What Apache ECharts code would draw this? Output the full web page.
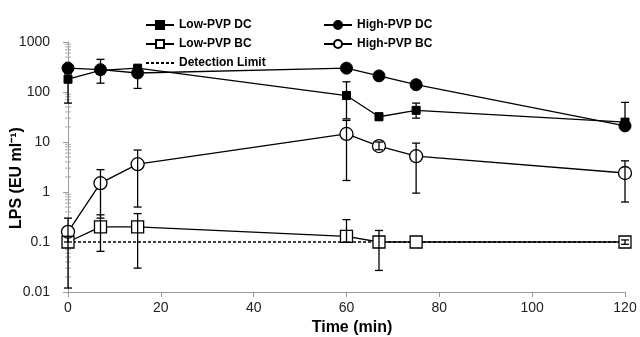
<!DOCTYPE html>
<html>
<head>
<meta charset="utf-8">
<script src="https://cdn.jsdelivr.net/npm/echarts@6/dist/echarts.min.js"></script>
<style>
  html, body { margin: 0; padding: 0; background: #fff; }
  #chart { width: 640px; height: 337px; }
</style>
</head>
<body>
<div id="chart"></div>
<script>
// Sampling times (min)
const times = [0, 7, 15, 60, 67, 75, 120];

// LPS concentrations (EU ml^-1) and error bar bounds (null = no bar)
const lowDc   = [180, 270, 300, 85, 32, 43, 25];
const lowDcLo = [60, null, 250, 29, 27, 30, 21];
const lowDcHi = [230, null, 340, 160, 38, 60, 62];

const highDc   = [300, 280, 240, 300, 210, 140, 21];
const highDcLo = [null, 150, 118, null, null, null, null];
const highDcHi = [null, 450, 300, null, null, null, null];

const lowBc   = [0.1, 0.2, 0.2, 0.13, 0.1, 0.1, 0.1];
const lowBcLo = [0.012, 0.065, 0.03, 0.1, 0.027, null, 0.09];
const lowBcHi = [0.13, 0.35, 0.37, 0.28, 0.17, null, 0.11];

const highBc   = [0.16, 1.5, 3.6, 14.5, 8.3, 5.2, 2.4];
const highBcLo = [0.1, 0.3, 0.5, 1.7, 7, 0.95, 0.63];
const highBcHi = [0.3, 2.8, 6.9, 27, 10, 9.5, 4.2];

const detectionLimit = 0.1;

// Axis settings
const xTicks = [0, 20, 40, 60, 80, 100, 120];
const yDecades = [0.01, 0.1, 1, 10, 100, 1000];

const FONT = 'Liberation Sans, Arial, sans-serif';

function pairs(vals) {
  return times.map((t, i) => [t, vals[i]]);
}
function bars(lo, hi) {
  const out = [];
  times.forEach((t, i) => {
    if (lo[i] != null && hi[i] != null) out.push([t, lo[i], hi[i]]);
  });
  return out;
}

// Logarithmic minor tick values (2..9 within each decade)
const minorTicks = [];
for (let d = 0; d < yDecades.length - 1; d++) {
  for (let m = 2; m <= 9; m++) minorTicks.push([xTicks[0], yDecades[d] * m]);
}

function errorBarItem(params, api) {
  const x = api.value(0);
  const p1 = api.coord([x, api.value(1)]);
  const p2 = api.coord([x, api.value(2)]);
  const cap = 4;
  const style = { stroke: '#000', lineWidth: 1.3 };
  return {
    type: 'group',
    children: [
      { type: 'line', shape: { x1: p1[0], y1: p1[1], x2: p2[0], y2: p2[1] }, style },
      { type: 'line', shape: { x1: p1[0] - cap, y1: p1[1], x2: p1[0] + cap, y2: p1[1] }, style },
      { type: 'line', shape: { x1: p2[0] - cap, y1: p2[1], x2: p2[0] + cap, y2: p2[1] }, style }
    ]
  };
}

function minorTickItem(params, api) {
  const p = api.coord([api.value(0), api.value(1)]);
  return {
    type: 'line',
    shape: { x1: p[0] - 3, y1: p[1], x2: p[0] + 3, y2: p[1] },
    style: { stroke: '#aaa', lineWidth: 1 }
  };
}

const lineStyle = { color: '#000', width: 1.3 };

function dataSeries(name, vals, symbol, size, filled) {
  return {
    name,
    type: 'line',
    data: pairs(vals),
    symbol,
    symbolSize: size,
    showAllSymbol: true,
    lineStyle,
    itemStyle: filled
      ? { color: '#000', borderColor: '#000', borderWidth: 1 }
      : { color: '#fff', borderColor: '#000', borderWidth: 1.3 },
    z: 3
  };
}

function errorSeries(lo, hi) {
  return {
    type: 'custom',
    renderItem: errorBarItem,
    data: bars(lo, hi),
    encode: { x: 0, y: [1, 2] },
    clip: false,
    silent: true,
    z: 4
  };
}

const chart = echarts.init(document.getElementById('chart'), null, { renderer: 'canvas' });

const legendText = { fontFamily: FONT, fontWeight: 'bold', fontSize: 12, color: '#000' };

chart.setOption({
  animation: false,
  backgroundColor: '#fff',
  grid: { left: 68, right: 15, top: 42, bottom: 45 },
  legend: [
    {
      data: ['Low-PVP DC', 'Low-PVP BC', 'Detection Limit'],
      orient: 'vertical', left: 140, top: 14,
      itemWidth: 28, itemHeight: 10, itemGap: 7,
      textStyle: legendText
    },
    {
      data: ['High-PVP DC', 'High-PVP BC'],
      orient: 'vertical', left: 318, top: 14,
      itemWidth: 28, itemHeight: 10, itemGap: 7,
      textStyle: legendText
    }
  ],
  xAxis: {
    type: 'value',
    min: xTicks[0], max: xTicks[xTicks.length - 1], interval: 20,
    axisLine: { lineStyle: { color: '#999', width: 1 } },
    axisTick: { show: true, length: 5, lineStyle: { color: '#999' } },
    axisLabel: { fontFamily: FONT, fontSize: 14, color: '#222', margin: 9 },
    splitLine: { show: false }
  },
  yAxis: {
    type: 'log', logBase: 10,
    min: yDecades[0], max: yDecades[yDecades.length - 1],
    axisLine: { show: true, lineStyle: { color: '#999', width: 1 } },
    axisTick: { show: true, length: 5, lineStyle: { color: '#999' } },
    axisLabel: {
      fontFamily: FONT, fontSize: 14, color: '#222', margin: 18,
      formatter: v => String(+v.toPrecision(3))
    },
    splitLine: { show: false }
  },
  graphic: [
    {
      type: 'text', x: 17, y: 178, rotation: Math.PI / 2,
      style: {
        text: 'LPS (EU ml⁻¹)', fontFamily: FONT, fontWeight: 'bold', fontSize: 16,
        fill: '#000', align: 'center', verticalAlign: 'middle'
      }
    },
    {
      type: 'text', x: 352, y: 328,
      style: {
        text: 'Time (min)', fontFamily: FONT, fontWeight: 'bold', fontSize: 16,
        fill: '#000', align: 'center', verticalAlign: 'middle'
      }
    }
  ],
  series: [
    {
      type: 'custom', renderItem: minorTickItem, data: minorTicks,
      encode: { x: 0, y: 1 }, clip: false, silent: true, z: 1
    },
    {
      name: 'Detection Limit',
      type: 'line',
      data: [[xTicks[0], detectionLimit], [xTicks[xTicks.length - 1], detectionLimit]],
      symbol: 'none',
      lineStyle: { color: '#000', width: 1.3, type: [3, 2] },
      itemStyle: { color: '#000', opacity: 0 },
      z: 2
    },
    dataSeries('Low-PVP DC', lowDc, 'rect', 8, true),
    dataSeries('High-PVP DC', highDc, 'circle', 12, true),
    dataSeries('Low-PVP BC', lowBc, 'rect', 12, false),
    dataSeries('High-PVP BC', highBc, 'circle', 13, false),
    errorSeries(lowDcLo, lowDcHi),
    errorSeries(highDcLo, highDcHi),
    errorSeries(lowBcLo, lowBcHi),
    errorSeries(highBcLo, highBcHi)
  ]
});
</script>
</body>
</html>
